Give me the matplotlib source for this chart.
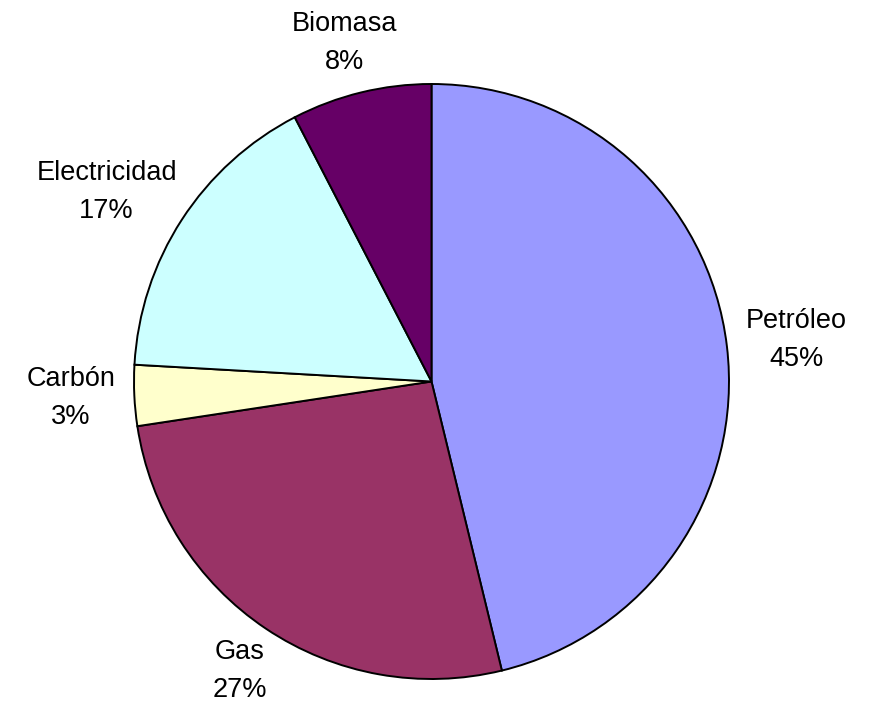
import numpy as np
import matplotlib
matplotlib.use("Agg")
from matplotlib import pyplot as plt

# Datos del grafico (orden horario desde arriba)
fuentes = ['Petróleo', 'Gas', 'Carbón', 'Electricidad', 'Biomasa']
valores = [46.2, 26.4, 3.3, 16.5, 7.6]
etiquetas_pct = ['45%', '27%', '3%', '17%', '8%']
colores = ['#9999FF', '#993366', '#FFFFCC', '#CCFFFF', '#660066']

plt.rcParams['font.family'] = ['Liberation Sans', 'DejaVu Sans']

fig = plt.figure(figsize=(8.76, 7.2), dpi=100)
ax = fig.add_axes([0, 0, 1, 1])

wedges, _ = ax.pie(valores, colors=colores, startangle=90, counterclock=False,
                   wedgeprops={'edgecolor': 'black', 'linewidth': 1.4})

ax.set_xlim(-431.5 / 297.5, (876 - 431.5) / 297.5)
ax.set_ylim(-338.5 / 297.5, 381.5 / 297.5)
ax.set_aspect('auto')
ax.axis('off')

# etiquetas fuera de la torta, centradas segun su tamaño
renderer = fig.canvas.get_renderer()
px_por_unidad = 297.5
for w, nombre, pct in zip(wedges, fuentes, etiquetas_pct):
    ang = np.deg2rad((w.theta1 + w.theta2) / 2)
    c, s = np.cos(ang), np.sin(ang)
    t = ax.text(0, 0, nombre + '\n' + pct, ha='center', va='center',
                multialignment='center', fontsize=19.5, linespacing=1.6)
    bb = t.get_window_extent(renderer)
    ancho = bb.width / px_por_unidad
    alto = bb.height / px_por_unidad
    r = 1.065
    t.set_position((r * c + ancho / 2 * c, r * s + alto / 2 * s))

fig.savefig('out.png', dpi=100)
